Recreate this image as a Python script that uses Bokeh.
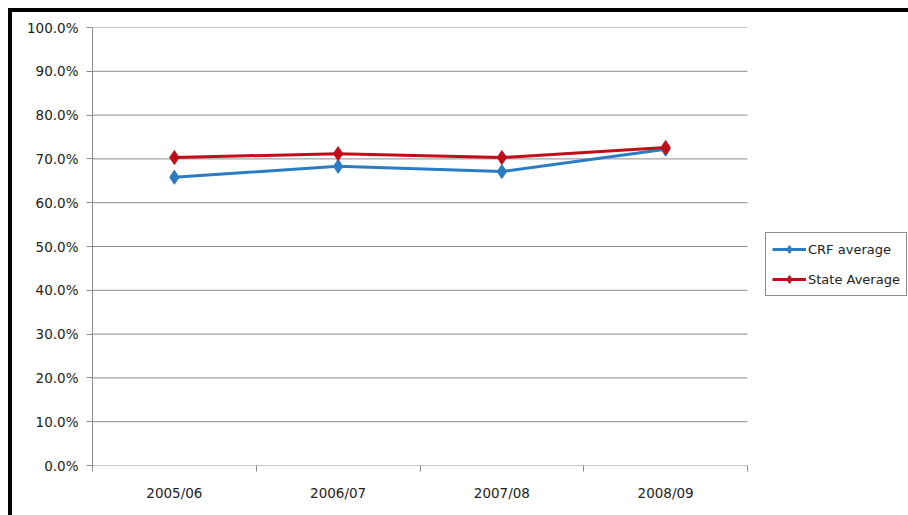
from bokeh.plotting import figure
from bokeh.models import (ColumnDataSource, FixedTicker, NumeralTickFormatter,
                          Range1d, Legend, LegendItem, InlineStyleSheet)
from bokeh.embed import file_html
from bokeh.resources import INLINE

categories = ["2005/06", "2006/07", "2007/08", "2008/09"]
crf_average = [0.658, 0.683, 0.671, 0.722]
state_average = [0.703, 0.712, 0.703, 0.726]
y_ticks = [i / 10 for i in range(0, 11)]

n = len(categories)
x_pos = [i + 0.5 for i in range(n)]
src = ColumnDataSource(dict(x=x_pos, crf=crf_average, state=state_average))
grid_src = ColumnDataSource(dict(x0=[0] * len(y_ticks), x1=[n] * len(y_ticks),
                                 y=y_ticks))

FONT = "DejaVu Sans"
GRID = "#8c8c8c"

# plot area 92..747 px holds the 4 categories; frame extends to the right edge
# so the legend (drawn in the frame) is not clipped
PLOT_W = 747 - 92
FRAME_W = 908 - 92
p = figure(width=908, height=515, output_backend="svg", toolbar_location=None,
           x_range=Range1d(0, n * FRAME_W / PLOT_W), y_range=Range1d(0, 1),
           min_border_left=92, min_border_right=0, min_border_top=27,
           min_border_bottom=50)
p.outline_line_color = None
p.background_fill_color = "white"
p.border_fill_color = "white"

# horizontal gridlines limited to the plot area
p.segment(x0="x0", x1="x1", y0="y", y1="y", source=grid_src,
          line_color=GRID, line_width=1)

# axes
p.xaxis.ticker = FixedTicker(ticks=x_pos, minor_ticks=list(range(n + 1)))
p.xaxis.major_label_overrides = {x: c for x, c in zip(x_pos, categories)}
p.xaxis.major_tick_out = 0
p.xaxis.major_tick_in = 0
p.xaxis.minor_tick_out = 6
p.xaxis.minor_tick_in = 0
p.xaxis.minor_tick_line_color = GRID
p.xaxis.axis_line_color = None
p.xaxis.major_label_standoff = 13
p.xgrid.visible = False
p.ygrid.visible = False

p.yaxis.ticker = FixedTicker(ticks=y_ticks)
p.yaxis.formatter = NumeralTickFormatter(format="0.0%")
p.yaxis.major_tick_out = 6
p.yaxis.major_tick_in = 0
p.yaxis.minor_tick_line_color = None
p.yaxis.major_tick_line_color = GRID
p.yaxis.axis_line_color = GRID
p.yaxis.major_label_standoff = 8

for ax in (p.xaxis, p.yaxis):
    ax.major_label_text_font = FONT
    ax.major_label_text_font_size = "13.5px"
    ax.major_label_text_color = "#222222"

BLUE = "#2a7cc4"
RED = "#c00d18"
l1 = p.line("x", "crf", source=src, line_color=BLUE, line_width=3)
m1 = p.scatter("x", "crf", source=src, marker="diamond", size=14,
               fill_color=BLUE, line_color=BLUE)
l2 = p.line("x", "state", source=src, line_color=RED, line_width=3)
m2 = p.scatter("x", "state", source=src, marker="diamond", size=14,
               fill_color=RED, line_color=RED)

legend = Legend(items=[LegendItem(label="CRF average", renderers=[l1, m1]),
                       LegendItem(label="State Average", renderers=[l2, m2])],
                location=(673, 169))
legend.border_line_color = "#222222"
legend.border_line_width = 1
legend.label_text_font = FONT
legend.label_text_font_size = "13px"
legend.label_text_color = "#222222"
legend.glyph_width = 34
legend.glyph_height = 20
legend.label_standoff = 2
legend.spacing = 10
legend.padding = 6
legend.margin = 0
legend.background_fill_alpha = 1
p.add_layout(legend, "center")

p.stylesheets = [InlineStyleSheet(css=(
    ":host { position: relative; overflow: hidden; }"
    ":host::after { content: ''; position: absolute; left: 8px; top: 8px;"
    " right: -10px; bottom: -10px; border: 4px solid black;"
    " pointer-events: none; }"))]

open("out.html", "w").write(file_html(p, INLINE))
